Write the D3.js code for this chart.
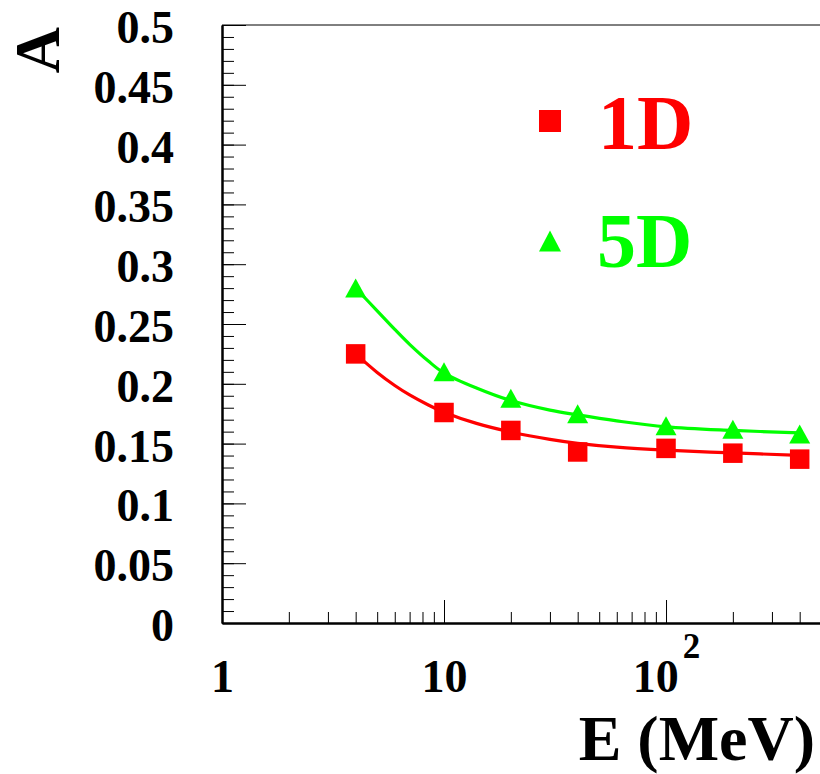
<!DOCTYPE html>
<html>
<head>
<meta charset="utf-8">
<script src="https://cdn.jsdelivr.net/npm/d3@7"></script>
<style>
  html, body { margin: 0; padding: 0; background: #ffffff; }
  svg { display: block; }
  text { font-family: "Liberation Serif", "Times New Roman", serif; font-weight: bold; }
</style>
</head>
<body>
<svg id="chart" width="820" height="774"></svg>
<script>
// Measured points
const energies = [4, 10, 20, 40, 100, 200, 400];        // E (MeV)
const values1D = [0.225, 0.176, 0.161, 0.143, 0.146, 0.142, 0.137];
const values5D = [0.280, 0.210, 0.188, 0.175, 0.165, 0.162, 0.158];

// Fitted curves, sampled along E
const fitEnergies = [4, 5, 6, 7, 8.5, 10, 14, 20, 30, 40, 60, 100, 200, 400];
const fit1D = [0.225, 0.2095, 0.1986, 0.1907, 0.1823, 0.1763, 0.1669, 0.1597, 0.1535, 0.1502, 0.147, 0.1445, 0.1422, 0.1402];
const fit5D = [0.280, 0.261, 0.2455, 0.233, 0.219, 0.209, 0.1965, 0.186, 0.178, 0.174, 0.169, 0.164, 0.161, 0.159];

// Axis ticks
const xMajorTicks = [1, 10, 100];
const xMajorLabels = ["1", "10", "10^2"];
const xMinorTicks = [2, 3, 4, 5, 6, 7, 8, 9, 20, 30, 40, 50, 60, 70, 80, 90, 200, 300, 400];
const yMajorTicks = [0, 0.05, 0.1, 0.15, 0.2, 0.25, 0.3, 0.35, 0.4, 0.45, 0.5];
const yMajorLabels = ["0", "0.05", "0.1", "0.15", "0.2", "0.25", "0.3", "0.35", "0.4", "0.45", "0.5"];
const yMinorTicks = d3.range(0, 51).map(i => i / 100);

const seriesNames = ["1D", "5D"];
const seriesColors = ["#ff0000", "#00ff00"];

const svg = d3.select("#chart");
const plotLeft = 222, plotRight = 821.2, plotTop = 25, plotBottom = 623;

const x = d3.scaleLog().domain([1, 500]).range([plotLeft, plotRight]);
const y = d3.scaleLinear().domain([0, 0.5]).range([plotBottom, plotTop]);

// Frame top edge
svg.append("line")
  .attr("x1", plotLeft).attr("x2", 820).attr("y1", plotTop).attr("y2", plotTop)
  .attr("stroke", "#000").attr("stroke-width", 1);

// Y axis: minor ticks, then major ticks with labels
const yMinor = svg.append("g").attr("transform", `translate(${plotLeft},0)`)
  .call(d3.axisLeft(y).tickValues(yMinorTicks).tickSizeInner(-12).tickSizeOuter(0).tickFormat(""));
const yMajor = svg.append("g").attr("transform", `translate(${plotLeft},0)`)
  .call(d3.axisLeft(y).tickValues(yMajorTicks).tickSizeInner(-24).tickSizeOuter(0).tickPadding(48)
    .tickFormat((d, i) => yMajorLabels[i]));

// X axis: minor ticks, then major ticks with labels
const xMinor = svg.append("g").attr("transform", `translate(0,${plotBottom})`)
  .call(d3.axisBottom(x).tickValues(xMinorTicks).tickSizeInner(-11).tickSizeOuter(0).tickFormat(""));
const xMajor = svg.append("g").attr("transform", `translate(0,${plotBottom})`)
  .call(d3.axisBottom(x).tickValues(xMajorTicks).tickSizeInner(-23).tickSizeOuter(0).tickPadding(36)
    .tickFormat((d, i) => xMajorLabels[i]));

[yMinor, yMajor, xMinor, xMajor].forEach(g => {
  g.selectAll(".tick line").attr("stroke", "#000").attr("stroke-width", 1);
  g.select(".domain").attr("stroke", "#000").attr("stroke-width", 2);
  g.selectAll("text").attr("fill", "#000").attr("font-size", 46)
    .attr("font-family", "Liberation Serif, serif").attr("font-weight", "bold");
});
yMajor.selectAll("text").attr("dy", "0.38em");

// Power-of-ten label with superscript exponent
xMajor.selectAll(".tick text").each(function (d, i) {
  const lab = xMajorLabels[i];
  if (lab.includes("^")) {
    const [base, exp] = lab.split("^");
    const t = d3.select(this).text(null);
    t.append("tspan").text(base);
    t.append("tspan").text(exp).attr("font-size", 35).attr("dy", "-0.95em").attr("dx", "0.12em");
  }
});

// Fit curves
const line = d3.line().x(d => x(d[0])).y(d => y(d[1])).curve(d3.curveCatmullRom.alpha(0.5));
[fit1D, fit5D].forEach((vals, k) => {
  svg.append("path")
    .datum(fitEnergies.map((e, i) => [e, vals[i]]))
    .attr("d", line)
    .attr("fill", "none")
    .attr("stroke", seriesColors[k])
    .attr("stroke-width", 3.2);
});

// Markers
const sq = 19.5;
const triW = 21, triH = 19;
function triangle(cx, cy, w, h) {
  return `M${cx - w / 2},${cy + h / 2}L${cx + w / 2},${cy + h / 2}L${cx},${cy - h / 2}Z`;
}

svg.append("g").selectAll("rect")
  .data(energies.map((e, i) => [e, values1D[i]]))
  .join("rect")
  .attr("x", d => x(d[0]) - sq / 2)
  .attr("y", d => y(d[1]) - sq / 2)
  .attr("width", sq).attr("height", sq)
  .attr("fill", seriesColors[0]);

svg.append("g").selectAll("path")
  .data(energies.map((e, i) => [e, values5D[i]]))
  .join("path")
  .attr("d", d => triangle(x(d[0]), y(d[1]), triW, triH))
  .attr("fill", seriesColors[1]);

// Legend
svg.append("rect").attr("x", 539).attr("y", 110).attr("width", 22).attr("height", 22)
  .attr("fill", seriesColors[0]);
svg.append("path").attr("d", triangle(550, 241, 22, 21)).attr("fill", seriesColors[1]);
svg.append("text").attr("x", 598).attr("y", 149).attr("font-size", 78)
  .attr("fill", seriesColors[0]).text(seriesNames[0]);
svg.append("text").attr("x", 597).attr("y", 267).attr("font-size", 78)
  .attr("fill", seriesColors[1]).text(seriesNames[1]);

// Axis titles
svg.append("text")
  .attr("transform", "translate(59,27) rotate(-90)")
  .attr("text-anchor", "end")
  .attr("font-size", 64)
  .attr("fill", "#000")
  .text("A");
svg.append("text")
  .attr("x", 815).attr("y", 760)
  .attr("text-anchor", "end")
  .attr("font-size", 64)
  .attr("fill", "#000")
  .text("E (MeV)");
</script>
</body>
</html>
